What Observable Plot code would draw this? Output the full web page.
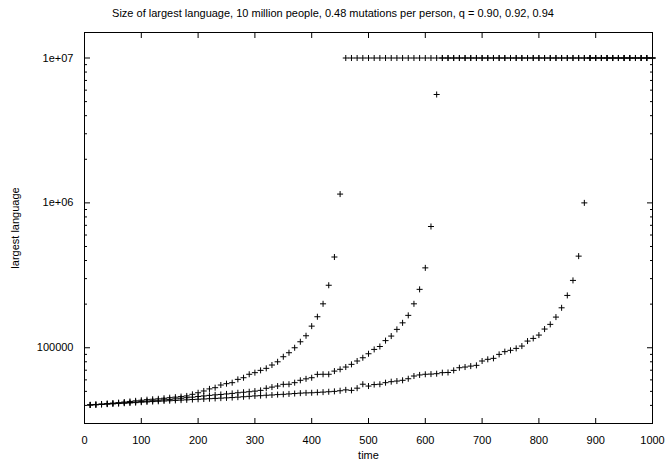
<!DOCTYPE html>
<html><head><meta charset="utf-8">
<script src="https://cdn.jsdelivr.net/npm/d3@7"></script>
<script src="https://cdn.jsdelivr.net/npm/@observablehq/plot@0.6"></script>
<style>
body{margin:0;background:#fff;font-family:"Liberation Sans",Arial,sans-serif;}
#title{width:666px;height:24px;line-height:26px;text-align:center;font-size:11px;color:#000;}
#chart svg{display:block;}
</style></head><body>
<div id="title">Size of largest language, 10 million people, 0.48 mutations per person, q = 0.90, 0.92, 0.94</div>
<div id="chart"></div>
<script>
const time = [10,20,30,40,50,60,70,80,90,100,110,120,130,140,150,160,170,180,190,200,
  210,220,230,240,250,260,270,280,290,300,310,320,330,340,350,360,370,380,390,400,
  410,420,430,440,450,460,470,480,490,500,510,520,530,540,550,560,570,580,590,600,
  610,620,630,640,650,660,670,680,690,700,710,720,730,740,750,760,770,780,790,800,
  810,820,830,840,850,860,870,880,890,900,910,920,930,940,950,960,970,980,990,1000];

const seriesA = [40300,40600,40900,41200,41500,41800,42200,42600,43000,43400,
  43800,44100,44400,44800,45200,45600,46000,46500,47700,48900,
  50300,52000,53000,55300,56500,57400,60500,62100,65600,67300,
  69800,72100,76000,80000,86700,92400,100000,110000,121000,141000,
  163700,201000,270000,423000,1150000,1e7,1e7,1e7,1e7,1e7,
  1e7,1e7,1e7,1e7,1e7,1e7,1e7,1e7,1e7,1e7,
  1e7,1e7,1e7,1e7,1e7,1e7,1e7,1e7,1e7,1e7,
  1e7,1e7,1e7,1e7,1e7,1e7,1e7,1e7,1e7,1e7,
  1e7,1e7,1e7,1e7,1e7,1e7,1e7,1e7,1e7,1e7,
  1e7,1e7,1e7,1e7,1e7,1e7,1e7,1e7,1e7,1e7];

const seriesB = [40300,40500,40700,41000,41200,41400,41700,41900,42200,42500,
  42800,43100,43400,43700,44000,44400,44800,45200,45600,46100,
  46500,46900,47300,47600,48000,48400,48900,49300,49700,50200,
  50800,52500,53500,54400,55900,56000,57400,59600,61000,62100,
  65500,65600,65600,69000,71000,73600,76800,81000,85300,90900,
  97400,102000,112000,120400,133900,148600,167300,201000,253000,356000,
  687000,5600000,1e7,1e7,1e7,1e7,1e7,1e7,1e7,1e7,
  1e7,1e7,1e7,1e7,1e7,1e7,1e7,1e7,1e7,1e7,
  1e7,1e7,1e7,1e7,1e7,1e7,1e7,1e7,1e7,1e7,
  1e7,1e7,1e7,1e7,1e7,1e7,1e7,1e7,1e7,1e7];

const seriesC = [40300,40400,40600,40800,41000,41200,41400,41600,41800,42100,
  42300,42500,42700,42900,43100,43300,43500,43700,43900,44100,
  44300,44500,44700,44900,45100,45300,45600,45900,46200,46500,
  46700,47000,47200,47500,47700,48000,48300,48600,48800,48900,
  49200,49400,49700,50000,50500,51200,50800,52600,56000,54400,
  55700,56000,57400,58300,58900,59600,61100,63800,64900,65600,
  65800,66200,67300,67500,69800,72800,73600,74700,75600,81000,
  83200,84500,90000,94000,96000,99000,102700,111200,116000,122300,
  134600,145000,162800,188700,229700,291600,429000,1000000,1e7,1e7,
  1e7,1e7,1e7,1e7,1e7,1e7,1e7,1e7,1e7,1e7];

const xTicks = [0,100,200,300,400,500,600,700,800,900,1000];
const yMajorTicks = [1e5,1e6,1e7];
const yMajorLabels = ["100000","1e+06","1e+07"];
const yMinorTicks = [40000,50000,60000,70000,80000,90000,
  200000,300000,400000,500000,600000,700000,800000,900000,
  2e6,3e6,4e6,5e6,6e6,7e6,8e6,9e6];
const xLabel = "time";
const yLabel = "largest language";

const points = [];
for (const s of [seriesA, seriesB, seriesC]) {
  s.forEach((v, i) => points.push({t: time[i], v}));
}

const blank = () => "";
const chart = Plot.plot({
  width: 666,
  height: 441,
  marginTop: 8,
  marginBottom: 42,
  marginLeft: 84,
  marginRight: 14,
  style: {fontFamily: "'Liberation Sans', Arial, sans-serif", fontSize: "11px", color: "black", background: "white"},
  x: {domain: [0, 1000], axis: null},
  y: {type: "log", domain: [30000, 1.5e7], axis: null},
  marks: [
    Plot.axisX({anchor: "bottom", ticks: xTicks, tickSize: -5, tickPadding: 18, tickFormat: d => String(d), label: null, stroke: "black"}),
    Plot.axisX({anchor: "top", ticks: xTicks, tickSize: -5, tickFormat: blank, label: null, stroke: "black"}),
    Plot.axisY({anchor: "left", ticks: yMajorTicks, tickSize: -6, tickPadding: 17, tickFormat: d => yMajorLabels[yMajorTicks.indexOf(d)], label: null, stroke: "black"}),
    Plot.axisY({anchor: "right", ticks: yMajorTicks, tickSize: -6, tickFormat: blank, label: null, stroke: "black"}),
    Plot.axisY({anchor: "left", ticks: yMinorTicks, tickSize: -3, tickFormat: blank, label: null, stroke: "black"}),
    Plot.axisY({anchor: "right", ticks: yMinorTicks, tickSize: -3, tickFormat: blank, label: null, stroke: "black"}),
    Plot.frame({stroke: "black"}),
    Plot.dot(points, {x: "t", y: "v", symbol: "plus", r: 2.1, stroke: "black", strokeWidth: 1}),
    Plot.text([xLabel], {frameAnchor: "bottom", dy: 32, lineAnchor: "middle", textAnchor: "middle", fill: "black"}),
    Plot.text([yLabel], {frameAnchor: "left", dx: -69, rotate: -90, lineAnchor: "middle", textAnchor: "middle", fill: "black"})
  ]
});
document.getElementById("chart").appendChild(chart);
</script>
</body></html>
